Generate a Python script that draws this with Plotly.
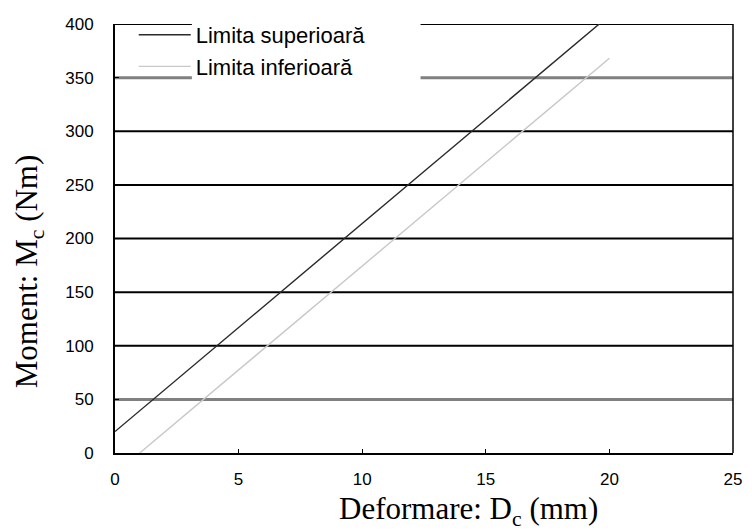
import plotly.graph_objects as go

# Data
upper_x = [0, 20]
upper_y = [20, 408]
lower_x = [1, 20]
lower_y = [0, 368]
x_ticks = [0, 5, 10, 15, 20, 25]
y_ticks = [0, 50, 100, 150, 200, 250, 300, 350, 400]
gray_grid = [50, 350]

fig = go.Figure()
fig.add_trace(go.Scatter(x=upper_x, y=upper_y, mode="lines", name="Limita superioară",
                         line=dict(color="#2a2a2a", width=1.4)))
fig.add_trace(go.Scatter(x=lower_x, y=lower_y, mode="lines", name="Limita inferioară",
                         line=dict(color="#c8c8c8", width=1.4)))

shapes = []
for v in y_ticks[1:]:
    gray = v in gray_grid
    shapes.append(dict(type="line", xref="paper", yref="y", x0=0, x1=1, y0=v, y1=v,
                       layer="below",
                       line=dict(color="#808080" if gray else "#000000", width=3 if gray else 2)))
# right border
shapes.append(dict(type="line", xref="paper", yref="paper", x0=1, x1=1, y0=0, y1=1,
                   layer="below", line=dict(color="#000000", width=1.5)))
# white legend box covering grid
shapes.append(dict(type="rect", xref="paper", yref="paper", x0=(193 - 115) / 627, x1=(425 - 115) / 627,
                   y0=1 - (84 - 24) / 429, y1=1.03, layer="below",
                   fillcolor="white", line=dict(width=0)))

fig.update_layout(
    width=752, height=532,
    margin=dict(l=115, r=10, t=24, b=79),
    paper_bgcolor="white", plot_bgcolor="white",
    shapes=shapes,
    showlegend=True,
    legend=dict(x=(134 - 115) / 627, y=1.0 + 10 / 429, xanchor="left", yanchor="top",
                bgcolor="rgba(0,0,0,0)", font=dict(family="Liberation Sans", size=22, color="#000"),
                tracegroupgap=0, itemwidth=52),
    xaxis=dict(range=[0, 25], tickvals=x_ticks, showgrid=False, zeroline=False,
               showline=True, linecolor="#000", linewidth=2, ticks="inside", ticklen=4,
               tickcolor="#000", tickfont=dict(family="Liberation Sans", size=17, color="#000"),
               ticklabelstandoff=10),
    yaxis=dict(range=[0, 400], tickvals=y_ticks, showgrid=False, zeroline=False,
               showline=True, linecolor="#000", linewidth=2, ticks="inside", ticklen=4,
               tickcolor="#000", tickfont=dict(family="Liberation Sans", size=17, color="#000"),
               ticklabelstandoff=16),
    annotations=[
        dict(text="Deformare: D<sub>c</sub> (mm)", xref="paper", yref="paper",
             x=(474 - 115) / 627, y=-(511 - 453) / 429, xanchor="center", yanchor="middle",
             showarrow=False, font=dict(family="Liberation Serif", size=31, color="#000")),
        dict(text="Moment: M<sub>c</sub> (Nm)", xref="paper", yref="paper",
             x=-(115 - 28) / 627, y=(453 - 271) / 429, xanchor="center", yanchor="middle",
             textangle=-90, showarrow=False,
             font=dict(family="Liberation Serif", size=31, color="#000")),
    ],
)

fig.write_html("out.html")
